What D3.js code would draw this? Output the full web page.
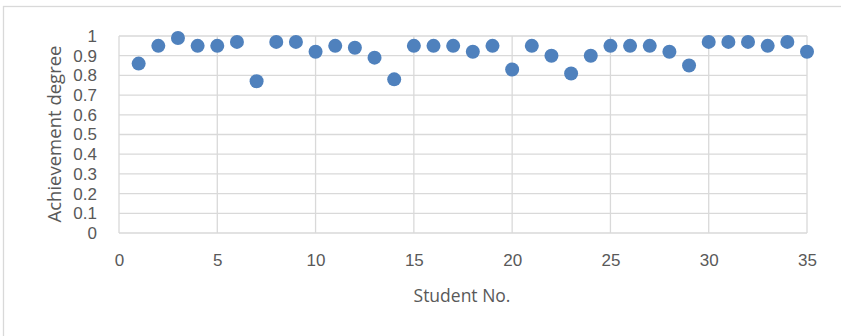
<!DOCTYPE html>
<html>
<head>
<meta charset="utf-8">
<script src="https://cdn.jsdelivr.net/npm/d3@7"></script>
<style>
  html, body { margin: 0; padding: 0; background: #fff; }
  svg { display: block; }
  text { font-family: "Open Sans", "Noto Sans", sans-serif; fill: #595959; }
</style>
</head>
<body>
<svg id="chart" width="841" height="336"></svg>
<script>
// Achievement degree per student
const studentNo = d3.range(1, 36);
const achievement = [
  0.86, 0.95, 0.99, 0.95, 0.95, 0.97, 0.77, 0.97, 0.97, 0.92,
  0.95, 0.94, 0.89, 0.78, 0.95, 0.95, 0.95, 0.92, 0.95, 0.83,
  0.95, 0.90, 0.81, 0.90, 0.95, 0.95, 0.95, 0.92, 0.85, 0.97,
  0.97, 0.97, 0.95, 0.97, 0.92
];
const xTicks = [0, 5, 10, 15, 20, 25, 30, 35];
const yTicks = [0, 0.1, 0.2, 0.3, 0.4, 0.5, 0.6, 0.7, 0.8, 0.9, 1];
const xTitle = "Student No.";
const yTitle = "Achievement degree";

const svg = d3.select("#chart");
const W = 841, H = 336;
const plot = { left: 119, right: 807, top: 36, bottom: 233 };
const tickFont = "'Liberation Sans', Arial, sans-serif";

// outer chart frame
svg.append("rect")
  .attr("x", 3.5).attr("y", 6.5)
  .attr("width", W + 10).attr("height", H + 10)
  .attr("fill", "#fff").attr("stroke", "#d9d9d9").attr("stroke-width", 1.3);

const x = d3.scaleLinear().domain([0, 35]).range([plot.left, plot.right]);
const y = d3.scaleLinear().domain([0, 1]).range([plot.bottom, plot.top]);

const grid = svg.append("g").attr("stroke", "#d9d9d9").attr("stroke-width", 1.3);
grid.selectAll("line.h").data(yTicks).join("line")
  .attr("class", "h")
  .attr("x1", plot.left).attr("x2", plot.right)
  .attr("y1", d => y(d)).attr("y2", d => y(d));
grid.selectAll("line.v").data(xTicks).join("line")
  .attr("class", "v")
  .attr("y1", plot.top).attr("y2", plot.bottom)
  .attr("x1", d => x(d)).attr("x2", d => x(d));

// y tick labels
const yAxis = d3.axisLeft(y).tickValues(yTicks).tickSize(0).tickPadding(22)
  .tickFormat(d => d3.format("~g")(d));
const gy = svg.append("g").attr("transform", `translate(${plot.left},0)`).call(yAxis);
gy.select(".domain").remove();
gy.selectAll("text").attr("font-size", 17).attr("fill", "#595959")
  .style("font-family", tickFont);

// x tick labels
const xAxis = d3.axisBottom(x).tickValues(xTicks).tickSize(0).tickPadding(21);
const gx = svg.append("g").attr("transform", `translate(0,${plot.bottom})`).call(xAxis);
gx.select(".domain").remove();
gx.selectAll("text").attr("font-size", 17).attr("fill", "#595959")
  .style("font-family", tickFont);

// axis titles
svg.append("text")
  .attr("x", (plot.left + plot.right) / 2 - 1).attr("y", 302)
  .attr("text-anchor", "middle").attr("font-size", 17.5)
  .text(xTitle);
svg.append("text")
  .attr("transform", "translate(61,134) rotate(-90)")
  .attr("text-anchor", "middle").attr("font-size", 18.5)
  .text(yTitle);

// points
svg.append("g").selectAll("circle").data(studentNo).join("circle")
  .attr("cx", (d) => x(d))
  .attr("cy", (d, i) => y(achievement[i]))
  .attr("r", 7)
  .attr("fill", "#4f81bd");
</script>
</body>
</html>
